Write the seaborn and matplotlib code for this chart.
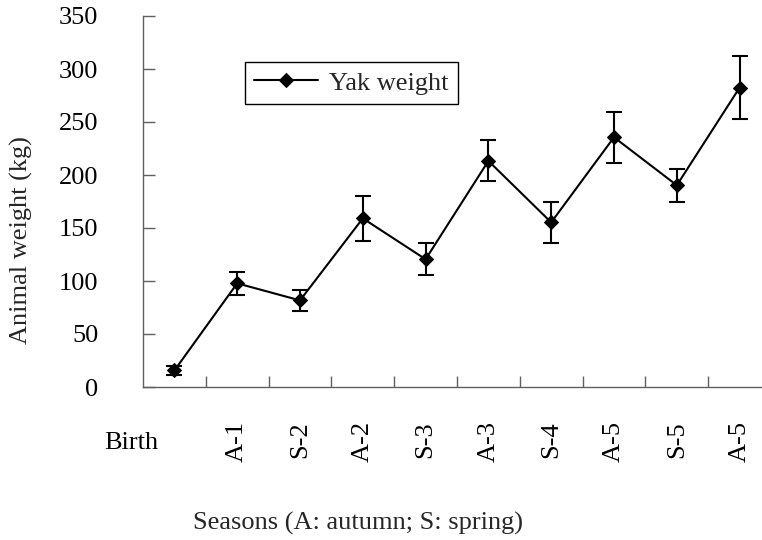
import matplotlib
matplotlib.use("Agg")
import matplotlib.pyplot as plt
import matplotlib.transforms as mtransforms
import seaborn as sns
import pandas as pd

# Dados
estacoes = ['Birth', 'A-1', 'S-2', 'A-2', 'S-3', 'A-3', 'S-4', 'A-5', 'S-5', 'A-5']
peso_medio = [15.6, 97.8, 81.7, 159.1, 120.5, 213.3, 155.3, 235.6, 190.3, 282.4]
erro_peso = [4.2, 10.7, 9.8, 21.1, 15.1, 19.3, 19.2, 24.0, 15.5, 29.6]
ticks_y = [0, 50, 100, 150, 200, 250, 300, 350]

sns.set_theme(style="white")
plt.rcParams['font.family'] = ['Liberation Serif', 'DejaVu Serif']
plt.rcParams['font.size'] = 19

df = pd.DataFrame({'pos': range(len(estacoes)), 'peso': peso_medio, 'erro': erro_peso})

fig = plt.figure(figsize=(7.62, 5.4), dpi=100)
ax = fig.add_axes([143 / 762, 153 / 540, 628 / 762, 371 / 540])

ax.errorbar(df['pos'], df['peso'], yerr=df['erro'], fmt='none', ecolor='black',
            elinewidth=1.5, capsize=6, capthick=1.5, zorder=2)
sns.lineplot(data=df, x='pos', y='peso', ax=ax, color='black', linewidth=1.5,
             marker='D', markersize=7.5, markeredgecolor='black', markerfacecolor='black',
             label='Yak weight', zorder=3)

ax.set_xlim(-0.5, len(estacoes) - 0.5)
ax.set_ylim(0, 350)
ax.set_yticks(ticks_y)

cor_eixo = '#606060'
for lado in ['top', 'right']:
    ax.spines[lado].set_visible(False)
for lado in ['left', 'bottom']:
    ax.spines[lado].set_color(cor_eixo)
    ax.spines[lado].set_linewidth(1)

ax.tick_params(axis='y', direction='in', length=8.4, width=1, color=cor_eixo,
               pad=32, labelsize=19, labelcolor='black', left=True)

ax.set_xticks(df['pos'], labels=estacoes)
ax.set_xticks([p + 0.5 for p in df['pos'][:-1]], minor=True)
ax.tick_params(axis='x', which='major', length=0, pad=24.5, labelsize=19,
               labelcolor='black', bottom=True)
ax.tick_params(axis='x', which='minor', direction='in', length=7.7, width=1,
               color=cor_eixo, bottom=True)

rotulos = ax.get_xticklabels()
for r in rotulos[1:]:
    r.set_rotation(90)
deslocamento = mtransforms.ScaledTranslation(-0.435, -0.11, fig.dpi_scale_trans)
rotulos[0].set_transform(rotulos[0].get_transform() + deslocamento)

ax.set_xlabel('Seasons (A: autumn; S: spring)', fontsize=19)
ax.set_ylabel('Animal weight (kg)', fontsize=19)
ax.xaxis.set_label_coords(0.3416, -0.337)
ax.yaxis.set_label_coords(-0.175, 0.396)

leg = ax.legend(loc='upper left', bbox_to_anchor=(0.1624, 0.876), borderaxespad=0,
                fontsize=19, frameon=True, fancybox=False, framealpha=1,
                edgecolor='black', borderpad=0.35, handlelength=2.4,
                handletextpad=0.45)
leg.get_frame().set_linewidth(1)

fig.savefig('out.png', dpi=100)
